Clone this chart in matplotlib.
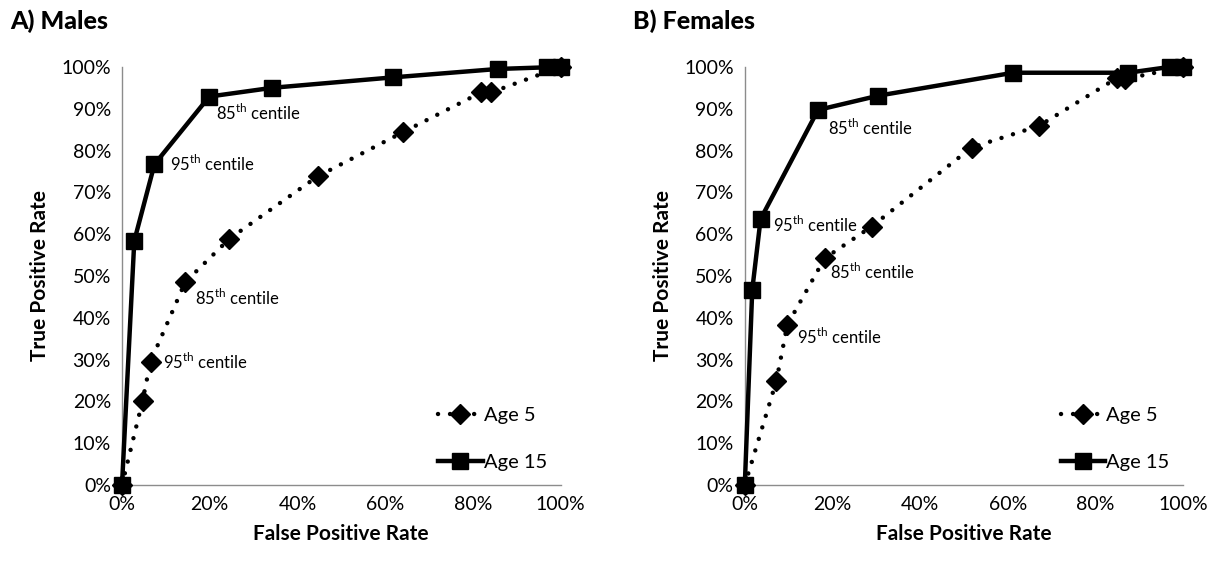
import matplotlib.pyplot as plt
from matplotlib.ticker import PercentFormatter

plt.rcParams['font.family'] = ['Lato', 'DejaVu Sans']
plt.rcParams['mathtext.fontset'] = 'custom'
plt.rcParams['mathtext.rm'] = 'Lato'

# Males
m15_fpr = [0, 0.028, 0.074, 0.199, 0.343, 0.619, 0.857, 0.970, 1.0]
m15_tpr = [0, 0.584, 0.767, 0.929, 0.950, 0.975, 0.995, 0.999, 1.0]
m5_fpr = [0, 0.047, 0.065, 0.144, 0.245, 0.446, 0.641, 0.819, 0.842, 1.0]
m5_tpr = [0, 0.202, 0.295, 0.485, 0.589, 0.738, 0.844, 0.939, 0.939, 1.0]

# Females
f15_fpr = [0, 0.017, 0.036, 0.167, 0.304, 0.612, 0.874, 0.970, 1.0]
f15_tpr = [0, 0.467, 0.636, 0.897, 0.931, 0.986, 0.986, 1.0, 1.0]
f5_fpr = [0, 0.072, 0.097, 0.182, 0.289, 0.517, 0.671, 0.848, 0.867, 1.0]
f5_tpr = [0, 0.249, 0.383, 0.542, 0.618, 0.807, 0.859, 0.973, 0.971, 1.0]

# (label, which series, point index, text offset in points)
m_notes = [("85", "15", 3, (5, -12)), ("95", "15", 2, (11, 0)),
           ("85", "5", 3, (7, -11)), ("95", "5", 2, (9, 0))]
f_notes = [("85", "15", 3, (7, -13)), ("95", "15", 2, (9, -4)),
           ("85", "5", 3, (4, -10)), ("95", "5", 2, (7, -9))]

fig = plt.figure(figsize=(12.25, 5.62), dpi=100)
ax1 = fig.add_axes([0.0996, 0.137, 0.358, 0.744])
ax2 = fig.add_axes([0.608, 0.137, 0.358, 0.744])

panels = [(ax1, "A) Males", m5_fpr, m5_tpr, m15_fpr, m15_tpr, m_notes),
          (ax2, "B) Females", f5_fpr, f5_tpr, f15_fpr, f15_tpr, f_notes)]

for ax, title, x5, y5, x15, y15, notes in panels:
    ax.plot(x5, y5, color='black', lw=3.2, linestyle=(0, (0.01, 2.7)),
            dash_capstyle='round', marker='D', markersize=10,
            clip_on=False, zorder=3, label='Age 5')
    ax.plot(x15, y15, color='black', lw=3.2, marker='s', markersize=11,
            clip_on=False, zorder=4, label='Age 15')
    series = {"5": (x5, y5), "15": (x15, y15)}
    for lab, s, i, off in notes:
        xs, ys = series[s]
        ax.annotate(lab + r"$^{\mathrm{th}}$ centile", (xs[i], ys[i]),
                    xytext=off, textcoords='offset points',
                    ha='left', va='center', fontsize=12)
    ax.set_xlim(0, 1)
    ax.set_ylim(0, 1)
    ax.set_xticks([0, 0.2, 0.4, 0.6, 0.8, 1.0])
    ax.set_yticks([i / 10 for i in range(11)])
    ax.xaxis.set_major_formatter(PercentFormatter(1.0, decimals=0))
    ax.yaxis.set_major_formatter(PercentFormatter(1.0, decimals=0))
    ax.tick_params(length=0, labelsize=14, pad=8)
    for sp in ['top', 'right']:
        ax.spines[sp].set_visible(False)
    for sp in ['left', 'bottom']:
        ax.spines[sp].set_color('#8c8c8c')
        ax.spines[sp].set_linewidth(1)
    ax.set_xlabel('False Positive Rate', fontsize=15, fontweight='bold', labelpad=8)
    ax.set_ylabel('True Positive Rate', fontsize=15, fontweight='bold', labelpad=8)
    ax.text(-0.255, 1.11, title, transform=ax.transAxes, fontsize=18,
            fontweight='black', ha='left', va='center')
    ax.legend(loc='lower right', frameon=False, fontsize=14.5, handlelength=2.2,
              handletextpad=0.05, labelspacing=1.5, bbox_to_anchor=(1.01, -0.01))

fig.savefig('out.png', dpi=100)
